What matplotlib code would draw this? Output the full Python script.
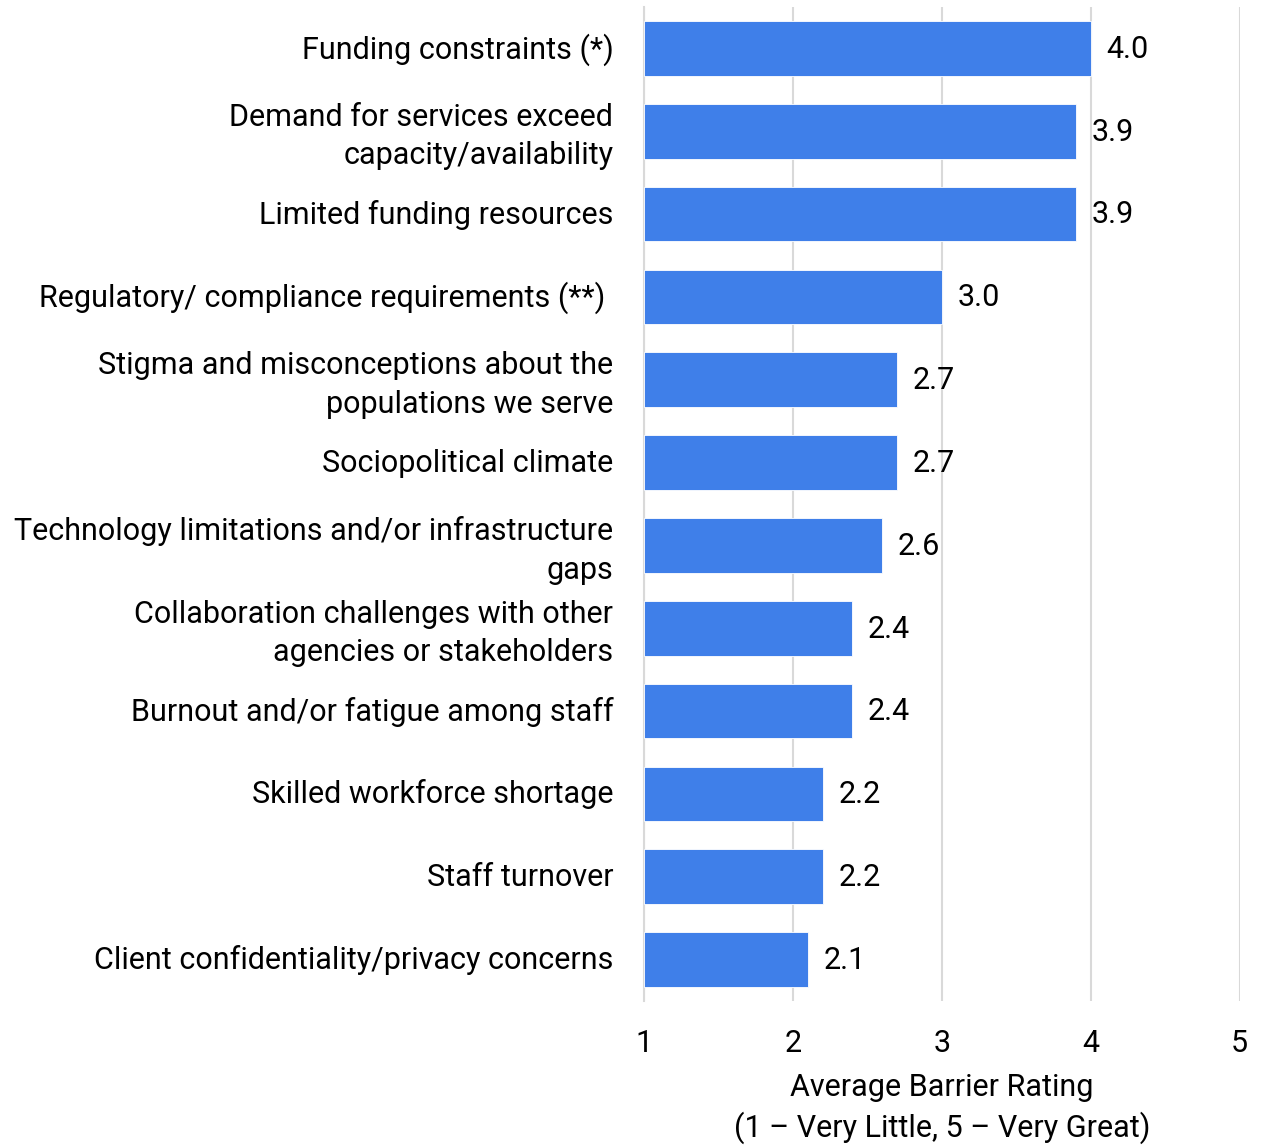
import matplotlib.pyplot as plt
from matplotlib.transforms import ScaledTranslation

# Barrier categories, top to bottom
categories = [
    "Funding constraints (*)",
    "Demand for services exceed\ncapacity/availability",
    "Limited funding resources",
    "Regulatory/ compliance requirements (**) ",
    "Stigma and misconceptions about the\npopulations we serve",
    "Sociopolitical climate",
    "Technology limitations and/or infrastructure\ngaps",
    "Collaboration challenges with other\nagencies or stakeholders",
    "Burnout and/or fatigue among staff",
    "Skilled workforce shortage",
    "Staff turnover",
    "Client confidentiality/privacy concerns",
]
ratings = [4.0, 3.9, 3.9, 3.0, 2.7, 2.7, 2.6, 2.4, 2.4, 2.2, 2.2, 2.1]
x_ticks = [1, 2, 3, 4, 5]

BAR_COLOR = "#3f7fe9"
GRID_COLOR = "#d9d9d9"
FONT = "Roboto"
FS = 22

fig = plt.figure(figsize=(12.65, 11.45), dpi=100)
ax = fig.add_axes([0.509, 0.1258, 0.471, 0.868])

ypos = list(range(len(categories)))
ax.barh(ypos, [r - 1 for r in ratings], left=1, height=0.66,
        color=BAR_COLOR, edgecolor="white", linewidth=0.6, zorder=3)

# value labels just past the bar ends
for y, r in zip(ypos, ratings):
    ax.text(r + 0.105, y + 0.01, f"{r:.1f}", va="center", ha="left",
            fontsize=FS, family=FONT, color="black")

ax.set_xlim(1, 5)
ax.set_ylim(len(categories) - 0.5, -0.5)
ax.set_xticks(x_ticks)
ax.set_xticklabels([str(t) for t in x_ticks], fontsize=FS, family=FONT)
ax.set_yticks(ypos)
ax.set_yticklabels(categories, fontsize=FS, family=FONT, linespacing=1.42)
ax.tick_params(axis="both", length=0)
ax.tick_params(axis="y", pad=22)
ax.tick_params(axis="x", pad=20)

# nudge category labels up a little
shift_up = ScaledTranslation(0, 0.025, fig.dpi_scale_trans)
for lab in ax.get_yticklabels():
    lab.set_transform(lab.get_transform() + shift_up)

ax.grid(axis="x", color=GRID_COLOR, linewidth=1.5, zorder=0)
for side in ["top", "right", "bottom"]:
    ax.spines[side].set_visible(False)
ax.spines["left"].set_color(GRID_COLOR)
ax.spines["left"].set_linewidth(1.5)

ax.set_xlabel("Average Barrier Rating\n(1 \u2013 Very Little, 5 \u2013 Very Great)",
              fontsize=FS, family=FONT, linespacing=1.38, labelpad=11)

fig.savefig("out.png", dpi=100)
